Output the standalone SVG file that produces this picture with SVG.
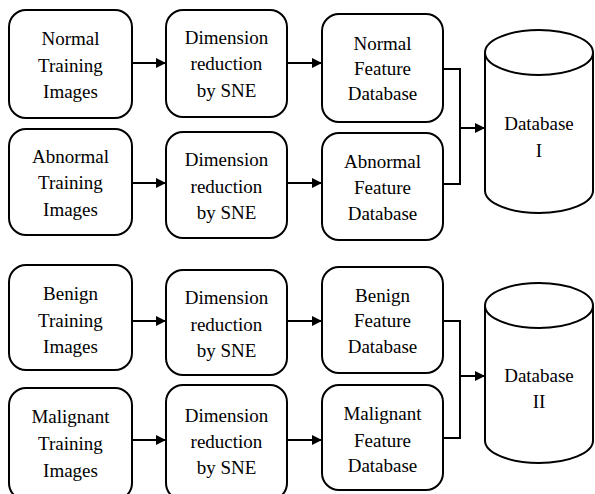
<svg xmlns="http://www.w3.org/2000/svg" width="595" height="494" viewBox="0 0 595 494">
<style>
.box{fill:#fff;stroke:#000;stroke-width:2}
text{font-family:'Liberation Serif','Times New Roman','DejaVu Serif',serif;font-size:19px;fill:#000;text-anchor:middle}
.c{fill:none;stroke:#000;stroke-width:2}
</style>
<defs>
<marker id="ah" viewBox="0 0 10 10" refX="10" refY="5" markerWidth="10" markerHeight="10" markerUnits="userSpaceOnUse" orient="auto">
<path d="M0,0 L10,5 L0,10 Z" fill="#000"/>
</marker>
</defs>
<rect width="595" height="494" fill="#fff"/>
<g id="n1"><rect class="box" x="9" y="10" width="123" height="108" rx="17"/><text font-family="Liberation Serif, serif"><tspan x="70.5" y="45">Normal</tspan><tspan x="70.5" y="72">Training</tspan><tspan x="70.5" y="98">Images</tspan></text></g>
<g id="n2"><rect class="box" x="166" y="10" width="121" height="107" rx="17"/><text font-family="Liberation Serif, serif"><tspan x="226.5" y="44">Dimension</tspan><tspan x="226.5" y="70">reduction</tspan><tspan x="226.5" y="97">by SNE</tspan></text></g>
<g id="n3"><rect class="box" x="322" y="14" width="121" height="108" rx="17"/><text font-family="Liberation Serif, serif"><tspan x="382.5" y="50">Normal</tspan><tspan x="382.5" y="75">Feature</tspan><tspan x="382.5" y="100">Database</tspan></text></g>
<g id="n4"><rect class="box" x="9" y="129" width="123" height="106" rx="17"/><text font-family="Liberation Serif, serif"><tspan x="70.5" y="163">Abnormal</tspan><tspan x="70.5" y="189">Training</tspan><tspan x="70.5" y="216">Images</tspan></text></g>
<g id="n5"><rect class="box" x="166" y="132" width="121" height="106" rx="17"/><text font-family="Liberation Serif, serif"><tspan x="226.5" y="166">Dimension</tspan><tspan x="226.5" y="193">reduction</tspan><tspan x="226.5" y="219">by SNE</tspan></text></g>
<g id="n6"><rect class="box" x="322" y="133" width="121" height="107" rx="17"/><text font-family="Liberation Serif, serif"><tspan x="382.5" y="168">Abnormal</tspan><tspan x="382.5" y="194">Feature</tspan><tspan x="382.5" y="220">Database</tspan></text></g>
<g id="db1"><path class="box" d="M485,52.5 V190.5 A54,22.5 0 0 0 593,190.5 V52.5"/><ellipse class="box" cx="539" cy="52.5" rx="54" ry="22.5"/><text font-family="Liberation Serif, serif"><tspan x="539" y="130">Database</tspan><tspan x="539" y="157">I</tspan></text></g>
<g id="n7"><rect class="box" x="9" y="265" width="123" height="105" rx="17"/><text font-family="Liberation Serif, serif"><tspan x="70.5" y="300">Benign</tspan><tspan x="70.5" y="327">Training</tspan><tspan x="70.5" y="353">Images</tspan></text></g>
<g id="n8"><rect class="box" x="166" y="270" width="121" height="105" rx="17"/><text font-family="Liberation Serif, serif"><tspan x="226.5" y="304">Dimension</tspan><tspan x="226.5" y="331">reduction</tspan><tspan x="226.5" y="357">by SNE</tspan></text></g>
<g id="n9"><rect class="box" x="322" y="267" width="121" height="106" rx="17"/><text font-family="Liberation Serif, serif"><tspan x="382.5" y="302">Benign</tspan><tspan x="382.5" y="327">Feature</tspan><tspan x="382.5" y="353">Database</tspan></text></g>
<g id="n10"><rect class="box" x="9" y="388" width="123" height="112" rx="17"/><text font-family="Liberation Serif, serif"><tspan x="70.5" y="423">Malignant</tspan><tspan x="70.5" y="450">Training</tspan><tspan x="70.5" y="477">Images</tspan></text></g>
<g id="n11"><rect class="box" x="166" y="385" width="121" height="115" rx="17"/><text font-family="Liberation Serif, serif"><tspan x="226.5" y="422">Dimension</tspan><tspan x="226.5" y="448">reduction</tspan><tspan x="226.5" y="474">by SNE</tspan></text></g>
<g id="n12"><rect class="box" x="322" y="385" width="121" height="105" rx="17"/><text font-family="Liberation Serif, serif"><tspan x="382.5" y="420">Malignant</tspan><tspan x="382.5" y="447">Feature</tspan><tspan x="382.5" y="472">Database</tspan></text></g>
<g id="db2"><path class="box" d="M485,305.5 V440.5 A54,22.5 0 0 0 593,440.5 V305.5"/><ellipse class="box" cx="539" cy="305.5" rx="54" ry="22.5"/><text font-family="Liberation Serif, serif"><tspan x="539" y="382">Database</tspan><tspan x="539" y="408">II</tspan></text></g>
<g id="connectors">
<line class="c" x1="132" y1="63" x2="166" y2="63" marker-end="url(#ah)"/>
<line class="c" x1="287" y1="63" x2="322" y2="63" marker-end="url(#ah)"/>
<line class="c" x1="132" y1="183" x2="166" y2="183" marker-end="url(#ah)"/>
<line class="c" x1="287" y1="183" x2="322" y2="183" marker-end="url(#ah)"/>
<polyline class="c" points="443,69 460,69 460,184 443,184"/>
<line class="c" x1="460" y1="128" x2="485" y2="128" marker-end="url(#ah)"/>
<line class="c" x1="132" y1="321" x2="166" y2="321" marker-end="url(#ah)"/>
<line class="c" x1="287" y1="321" x2="322" y2="321" marker-end="url(#ah)"/>
<line class="c" x1="132" y1="440" x2="166" y2="440" marker-end="url(#ah)"/>
<line class="c" x1="287" y1="440" x2="322" y2="440" marker-end="url(#ah)"/>
<polyline class="c" points="443,321 460,321 460,438 443,438"/>
<line class="c" x1="460" y1="376" x2="485" y2="376" marker-end="url(#ah)"/>
</g>
</svg>
